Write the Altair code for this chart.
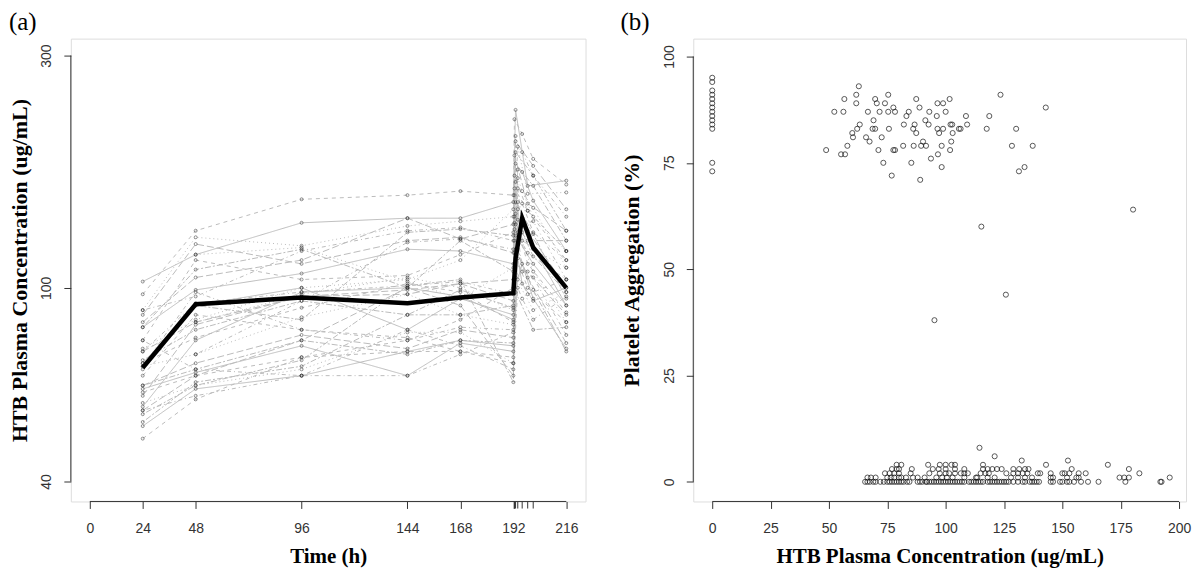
import altair as alt
import pandas as pd

N = None
SANS = "Liberation Sans"
SERIF = "Liberation Serif"
AX = "#333333"

# ---------------- panel (a): concentration-time profiles ----------------
times = [24, 48, 96, 144, 168, 192, 192.5, 193, 194, 196, 198.5, 201, 216]
subjects = [
    [103, 117, 136, 139, 139, 150, N, 232, N, N, 162, N, 166],
    [97, 131, 152, 155, 158, 155, 222, N, N, 207, N, 184, 163],
    [90, 127, 122, 134, 137, 140, N, 205, N, N, 156, N, 157],
    [90, 96, 119, 131, 133, 125, N, N, 195, 190, N, 170, 140],
    [88, 123, 112, 125, 127, 118, 187, N, N, N, 149, N, 131],
    [83, 109, 120, 100, 125, 108, N, 180, N, N, N, 162, 125],
    [83, 99, 107, 120, 119, 112, N, N, 175, 173, N, 151, 119],
    [78, 114, 104, 106, 117, 130, 170, N, N, N, 144, N, 114],
    [75, 86, 100, 104, 114, 145, N, 165, N, N, N, 146, 110],
    [74, 93, 98, 101, 103, 97, N, N, 160, 135, N, 137, 104],
    [74, 85, 96, 99, 102, 94, 155, N, N, N, 131, N, 100],
    [71, 82, 94, 88, 99, 91, N, 150, N, N, N, 129, 95],
    [70, 92, 100, 82, 95, 88, N, N, 145, 125, N, 121, 92],
    [70, 79, 91, 102, 98, 85, 140, N, N, N, 112, N, 89],
    [69, 73, 87, 97, 88, 84, N, 135, N, N, N, 108, 85],
    [69, 98, 82, 78, 83, 82, N, N, 130, 108, N, 105, 80],
    [63, 70, 80, 75, 82, 79, 125, N, N, N, 105, N, 77],
    [63, 68, 78, 73, 78, 77, N, 120, N, N, N, 99, 74],
    [62, 67, 76, 66, 77, 74, N, N, 115, 102, N, 94, 100],
    [61, 66, 72, 74, 74, 72, 110, N, N, N, 97, N, 104],
    [58, 63, 68, 81, 81, 70, N, 105, N, N, N, 90, 98],
    [56, 60, 66, 82, 76, 68, N, N, 100, 95, N, 86, 96],
    [56, 66, 78, 100, 92, 66, 112, N, N, N, 108, N, 88],
    [55, 63, 71, 101, 104, 64, N, 98, N, N, N, 82, 83],
    [52, 62, 66, 74, 78, 76, N, N, 104, 112, N, 95, 75],
    [49, 59, 72, 78, 86, 100, 160, N, N, N, 144, N, 119],
    [N, 85, 97, 105, 100, 90, N, 142, N, N, N, 120, 110],
    [N, 73, 94, 124, 126, 120, N, N, 150, 149, N, 130, 114],
    [60, 84, 96, 97, 102, 104, 136, N, N, N, 125, N, 125],
    [68, 92, 86, 130, 132, 128, N, 190, N, N, N, 170, 131],
    [57, 78, 98, 100, 96, 86, N, 128, N, N, N, 112, 92],
    [66, 88, 82, 79, 74, 70, 118, N, N, N, 100, N, 85],
    [N, 117, 121, 103, 95, 110, N, N, 168, 158, N, 140, 119],
    [78, 68, 66, 66, 73, 81, 132, N, N, N, 118, N, 104],
    [85, 105, 114, 139, 126, 135, N, 200, N, N, N, 178, 145],
    [53, 64, 69, 88, 88, 92, N, N, 138, 130, N, 116, 98],
]
mean_times = [24, 48, 96, 144, 168, 192, 193, 196, 201, 216]
mean_conc = [68.5, 92.5, 95.5, 93, 95.5, 97.5, 115, 139, 121, 100]
x_ticks_a = [0, 24, 48, 96, 144, 168, 192, 216]
rug_ticks_a = [192.5, 193, 194, 196, 198.5, 201]
y_ticks_a = [40, 100, 300]
dash_names = ["solid", "dashed", "dotted", "dotdash", "longdash", "twodash"]
dash_arrays = [[1, 0], [4, 4], [1, 3], [1, 3, 4, 3], [7, 3], [2, 2, 6, 2]]

# ---------------- panel (b): aggregation vs concentration ----------------
zero_y = [95, 94, 92, 91, 90, 89, 88, 87, 86, 85, 84, 83, 75, 73]
upper_x = [62.8, 61.7, 56.6, 69.8, 75.4, 61.7, 70.5, 74.0, 87.4, 96.5, 98.9, 101.7, 123.5, 142.9,
           52.3, 56.2, 66.7, 71.7, 75.4, 78.3, 77.6, 84.2, 88.8, 93.0, 96.2, 100.0, 83.2, 108.7, 118.7,
           69.1, 63.2, 62.1, 60.0, 68.7, 69.8, 75.7, 82.1, 86.7, 86.1, 87.4, 91.3, 92.7, 96.5, 98.9,
           97.2, 102.1, 102.8, 103.0, 105.7, 106.4, 109.2, 117.6, 130.2,
           60.3, 57.9, 65.9, 67.4, 72.6, 71.2, 77.6, 78.3, 81.8, 86.3, 89.5, 90.3, 91.6, 98.3, 102.4,
           101.9, 96.7, 93.7, 128.4, 137.3,
           48.8, 55.2, 56.9, 73.3, 85.3, 98.3, 76.9, 89.1, 131.4, 133.8]
upper_y = [93, 91, 90, 90, 91, 89, 89, 89, 90, 89, 89, 90, 91, 88,
           87, 87, 87, 87, 87, 87, 88, 87, 88, 87, 86, 87, 86, 86, 86,
           85, 84, 83, 82, 83, 83, 83, 84, 84, 83, 82, 85, 84, 83, 83,
           82, 84, 84, 82, 83, 83, 84, 83, 83,
           81, 79, 81, 80, 81, 78, 78, 78, 79, 79, 79, 80, 79, 79, 80,
           78, 77, 76, 79, 79,
           78, 77, 77, 75, 75, 74, 72, 71, 73, 74]
outlier_x = [115.3, 180.3, 125.8, 95.2]
outlier_y = [60, 64, 44, 38]
low0_x = [65.5, 66.5, 67.5, 69, 70, 72, 73.5, 75, 76, 77, 78, 79, 80, 81, 82, 83.5, 84.5, 88, 89,
          90, 91.5, 92, 93, 94, 95, 96, 97, 98, 99, 100, 101, 102, 103, 104, 105, 106, 107, 108,
          110, 111, 112, 113, 114, 115, 116, 118, 119, 120, 121, 122, 123, 124, 125, 126, 127,
          129, 131, 133, 134, 136, 137, 138, 139, 140, 145, 146, 149, 150, 152, 153, 155, 158,
          161, 165.5, 177, 192, 192.5]
low1_x = [66.5, 68, 70, 75, 76.5, 78, 80, 81, 83, 86, 88, 91, 96, 98.5, 100.5, 103, 108, 113,
          113.5, 118, 121, 128, 131, 134, 137, 145, 146, 152, 156, 157, 174.5, 176.5, 178.5, 196]
low2_x = [74, 76, 78, 80, 85, 93, 97.5, 100, 101.5, 104, 106.5, 108, 109.5, 115, 117, 118.5,
          126, 129, 131, 133, 135, 139.5, 140.5, 145, 150, 151, 153, 157, 160, 183]
low3_x = [77, 79, 80, 85.5, 94.5, 97, 100, 104, 108, 116, 118, 120, 122, 124, 129, 131.5, 134,
          135.5, 154, 178.5]
low4_x = [79, 81, 92.5, 97.5, 100, 102.5, 104, 116, 143, 169.5]
high_low_x = [132.6, 152.4, 121, 114.5]
high_low_y = [5, 5, 6, 8]
x_ticks_b = [0, 25, 50, 75, 100, 125, 150, 175, 200]
y_ticks_b = [0, 25, 50, 75, 100]

# ---------------- tables ----------------
rows = []
for s, vals in enumerate(subjects):
    for t, v in zip(times, vals):
        if v is not None:
            rows.append({"subject": s, "lty": dash_names[s % len(dash_names)], "time": t, "conc": v})
df_a = pd.DataFrame(rows)
df_mean = pd.DataFrame({"time": mean_times, "conc": mean_conc})

bx, by = [], []
bx += [0] * len(zero_y); by += zero_y
bx += upper_x; by += upper_y
bx += outlier_x; by += outlier_y
for yv, xs in [(0, low0_x), (1, low1_x), (2, low2_x), (3, low3_x), (4, low4_x)]:
    bx += xs; by += [yv] * len(xs)
bx += high_low_x; by += high_low_y
df_b = pd.DataFrame({"conc": bx, "agg": by})

# ---------------- panel (a) chart ----------------
XA_DOM = [-8.59, 224.72]
YA_DOM = [36.4, 325]
RUG_END = 35.2   # just below the axis line (tick length)
W_A, H = 516, 464

lab_common = dict(labelFont=SANS, labelFontSize=14, labelColor=AX, tickColor=AX,
                  tickSize=7, domain=False, grid=False, labelOverlap=False, labelFlush=False,
                  titleFont=SERIF, titleFontWeight="bold", titleColor="black")

xa = alt.X("time:Q", scale=alt.Scale(domain=XA_DOM, nice=False, zero=False),
           axis=alt.Axis(values=x_ticks_a, format="d",
                         title="Time (h)", labelPadding=13, titlePadding=10, titleFontSize=21,
                         **lab_common))
ya = alt.Y("conc:Q", scale=alt.Scale(type="log", domain=YA_DOM, nice=False, zero=False),
           axis=alt.Axis(values=y_ticks_a, labelExpr="format(datum.value, 'd')",
                         title="HTB Plasma Concentration (ug/mL)", labelAngle=270,
                         labelAlign="center", labelBaseline="alphabetic", labelPadding=13,
                         titlePadding=8, titleFontSize=22, **lab_common))

base_a = alt.Chart(df_a)
lines_a = base_a.mark_line(color="#bcbcbc", strokeWidth=1).encode(
    x=xa, y=ya, detail="subject:N",
    strokeDash=alt.StrokeDash("lty:N", scale=alt.Scale(domain=dash_names, range=dash_arrays), legend=None),
)
pts_a = base_a.mark_point(shape="circle", filled=False, size=9, strokeWidth=0.7, color="#222222").encode(
    x=xa, y=ya)
mean_a = alt.Chart(df_mean).mark_line(color="black", strokeWidth=4.5).encode(x=xa, y=ya)
xline_a = alt.Chart(pd.DataFrame({"time": [x_ticks_a[0]], "time2": [x_ticks_a[-1]]})).mark_rule(
    color=AX, strokeWidth=1).encode(x=xa, x2="time2:Q", y=alt.datum(YA_DOM[0]))
yline_a = alt.Chart(pd.DataFrame({"conc": [y_ticks_a[0]], "conc2": [y_ticks_a[-1]]})).mark_rule(
    color=AX, strokeWidth=1).encode(y=ya, y2="conc2:Q", x=alt.datum(XA_DOM[0]))
rug_a = alt.Chart(pd.DataFrame({"time": rug_ticks_a})).mark_rule(
    color=AX, strokeWidth=1).encode(x=xa, y=alt.datum(YA_DOM[0]), y2=alt.datum(RUG_END))

panel_a = alt.layer(lines_a, pts_a, mean_a, xline_a, yline_a, rug_a).properties(
    width=W_A, height=H,
    title=alt.TitleParams("(a)", anchor="start", font=SERIF, fontSize=25, fontWeight="normal",
                          color="black", offset=4))

# ---------------- panel (b) chart ----------------
XB_DOM = [-8.13, 202.98]
YB_DOM = [-4.62, 104.2]
W_B = 494

xb = alt.X("conc:Q", scale=alt.Scale(domain=XB_DOM, nice=False, zero=False),
           axis=alt.Axis(values=x_ticks_b, format="d", title="HTB Plasma Concentration (ug/mL)",
                         labelPadding=13, titlePadding=10, titleFontSize=21, **lab_common))
yb = alt.Y("agg:Q", scale=alt.Scale(domain=YB_DOM, nice=False, zero=False),
           axis=alt.Axis(values=y_ticks_b, format="d", title="Platelet Aggregation (%)",
                         labelAngle=270, labelAlign="center", labelBaseline="alphabetic",
                         labelPadding=13, titlePadding=19, titleFontSize=22, **lab_common))

pts_b = alt.Chart(df_b).mark_point(shape="circle", filled=False, size=26, strokeWidth=1,
                                   color="#111111").encode(x=xb, y=yb)
xline_b = alt.Chart(pd.DataFrame({"conc": [x_ticks_b[0]], "conc2": [x_ticks_b[-1]]})).mark_rule(
    color=AX, strokeWidth=1).encode(x=xb, x2="conc2:Q", y=alt.datum(YB_DOM[0]))
yline_b = alt.Chart(pd.DataFrame({"agg": [y_ticks_b[0]], "agg2": [y_ticks_b[-1]]})).mark_rule(
    color=AX, strokeWidth=1).encode(y=yb, y2="agg2:Q", x=alt.datum(XB_DOM[0]))

panel_b = alt.layer(pts_b, xline_b, yline_b).properties(
    width=W_B, height=H,
    title=alt.TitleParams("(b)", anchor="start", font=SERIF, fontSize=25, fontWeight="normal",
                          color="black", offset=4))

chart = alt.hconcat(panel_a, panel_b, spacing=33).properties(
    padding={"left": 0, "top": 0, "right": 0, "bottom": 0}
).configure_view(stroke=None).configure_axis(labelOverlap=False).configure(background="white")

chart.save("out.html", embed_options={"renderer": "svg", "actions": False})
